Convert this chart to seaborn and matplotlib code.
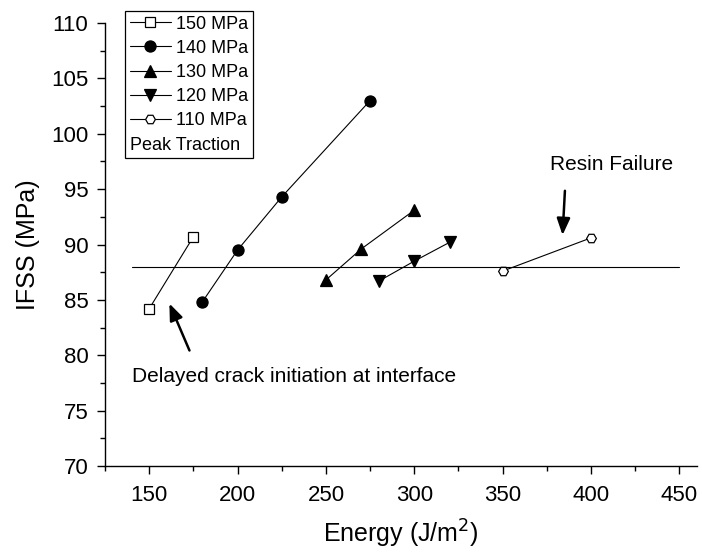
import matplotlib
matplotlib.use("Agg")
import matplotlib.pyplot as plt
from matplotlib.ticker import MultipleLocator
import seaborn as sns
import pandas as pd

# ---- data ----
series_labels = ["150 MPa", "140 MPa", "130 MPa", "120 MPa", "110 MPa"]
energy_150 = [150, 175]
ifss_150 = [84.2, 90.7]
energy_140 = [180, 200, 225, 275]
ifss_140 = [84.8, 89.5, 94.3, 103.0]
energy_130 = [250, 270, 300]
ifss_130 = [86.8, 89.6, 93.1]
energy_120 = [280, 300, 320]
ifss_120 = [86.7, 88.5, 90.2]
energy_110 = [350, 400]
ifss_110 = [87.6, 90.6]
resin_failure_ifss = 88.0
resin_failure_energy = [140, 450]
legend_title = "Peak Traction"

sns.set_style("ticks")
plt.rcParams["font.family"] = ["Liberation Sans", "DejaVu Sans"]
plt.rcParams["text.color"] = "black"
plt.rcParams["axes.labelcolor"] = "black"
plt.rcParams["xtick.color"] = "black"
plt.rcParams["ytick.color"] = "black"

fig = plt.figure(figsize=(7.02, 5.56), dpi=100)
ax = fig.add_axes([0.1496, 0.1619, 0.8434, 0.7967])

energies = [energy_150, energy_140, energy_130, energy_120, energy_110]
ifss = [ifss_150, ifss_140, ifss_130, ifss_120, ifss_110]
markers = ["s", "o", "^", "v", "H"]
faces = ["white", "black", "black", "black", "white"]
sizes = [6.5, 8, 8.5, 8.5, 7]

for lab, e, v, m, fc, ms in zip(series_labels, energies, ifss, markers, faces, sizes):
    df = pd.DataFrame({"Energy": e, "IFSS": v})
    sns.lineplot(data=df, x="Energy", y="IFSS", ax=ax, color="black", lw=0.8,
                 marker=m, markerfacecolor=fc, markeredgecolor="black",
                 markeredgewidth=0.9, markersize=ms, label=lab, sort=False,
                 legend=False)

df_rf = pd.DataFrame({"Energy": resin_failure_energy,
                      "IFSS": [resin_failure_ifss] * len(resin_failure_energy)})
sns.lineplot(data=df_rf, x="Energy", y="IFSS", ax=ax, color="black", lw=0.8,
             legend=False)

ax.set_xlim(125, 460)
ax.set_ylim(70, 110)
ax.xaxis.set_major_locator(MultipleLocator(50))
ax.xaxis.set_minor_locator(MultipleLocator(25))
ax.yaxis.set_major_locator(MultipleLocator(5))
ax.yaxis.set_minor_locator(MultipleLocator(2.5))
ax.tick_params(which="major", direction="out", length=6, width=1, labelsize=16,
               color="black", labelcolor="black")
ax.tick_params(axis="x", which="major", pad=8)
ax.tick_params(axis="y", which="major", pad=6)
ax.tick_params(which="minor", direction="out", length=3.5, width=1, color="black")
for s in ["top", "right"]:
    ax.spines[s].set_visible(False)
for s in ["left", "bottom"]:
    ax.spines[s].set_color("black")
    ax.spines[s].set_linewidth(1)

ax.set_xlabel("Energy (J/m$^2$)", fontsize=18, labelpad=8)
ax.set_ylabel("IFSS (MPa)", fontsize=18, labelpad=8)

ax.annotate("", xy=(160.8, 84.9), xytext=(173.4, 80.2),
            arrowprops=dict(arrowstyle="-|>,head_length=1.0,head_width=0.4",
                            color="black", lw=1.8))
ax.text(140, 78.1, "Delayed crack initiation at interface", fontsize=15,
        ha="left", va="center")
ax.annotate("", xy=(383.8, 90.6), xytext=(385.3, 95.1),
            arrowprops=dict(arrowstyle="-|>,head_length=1.0,head_width=0.4",
                            color="black", lw=1.8))
ax.text(376.8, 97.2, "Resin Failure", fontsize=15, ha="left", va="center")

handles, labels = ax.get_legend_handles_labels()
leg = ax.legend(handles[:5], labels[:5], title=legend_title,
                loc="upper left", bbox_to_anchor=(125 / 702, 1 - 11 / 556),
                bbox_transform=fig.transFigure, fontsize=13, title_fontsize=13,
                frameon=True, fancybox=False, edgecolor="black", framealpha=1,
                handlelength=2.3, handletextpad=0.3, labelspacing=0.4,
                borderpad=0.25, borderaxespad=0, alignment="left")
leg.get_frame().set_linewidth(0.9)
leg._legend_box._children = [leg._legend_handle_box, leg._legend_title_box]

fig.savefig("out.png", dpi=100)
